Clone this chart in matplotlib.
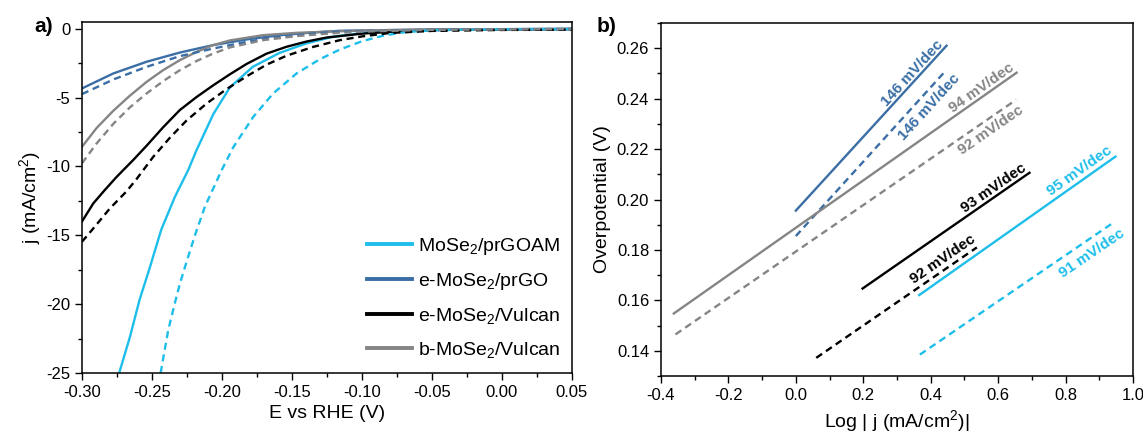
import numpy as np
import matplotlib
matplotlib.use("Agg")
import matplotlib.pyplot as plt
from matplotlib.ticker import MultipleLocator, FormatStrFormatter
import math

plt.rcParams['font.family'] = ['Liberation Sans', 'DejaVu Sans']
plt.rcParams['mathtext.fontset'] = 'custom'
plt.rcParams['mathtext.rm'] = 'Liberation Sans'
plt.rcParams['mathtext.default'] = 'regular'
plt.rcParams['axes.unicode_minus'] = False

CYAN = "#1EBEEB"
BLUE = "#3A6EA5"
BLACK = "#000000"
GREY = "#858585"

# ---------------- Panel a data: polarization curves ----------------
labels = ["MoSe$_2$/prGOAM", "e-MoSe$_2$/prGO", "e-MoSe$_2$/Vulcan", "b-MoSe$_2$/Vulcan"]

cyan_solid_E = [-0.2734, -0.2657, -0.2589, -0.2514, -0.2434, -0.2336, -0.2241, -0.2181, -0.2062,
                -0.1943, -0.178, -0.1589, -0.1398, -0.1209, -0.10, -0.07, -0.03, 0.05]
cyan_solid_j = [-25.0, -22.37, -19.7, -17.3, -14.6, -12.2, -10.26, -8.8, -6.2,
                -4.25, -2.76, -1.75, -1.06, -0.58, -0.30, -0.12, -0.03, -0.01]

cyan_dash_E = [-0.2438, -0.2419, -0.2384, -0.2336, -0.23, -0.2252, -0.2193, -0.2121, -0.2002,
               -0.1919, -0.1776, -0.1634, -0.1467, -0.13, -0.1157, -0.10, -0.085, -0.07, -0.05, 0.0, 0.05]
cyan_dash_j = [-25.0, -23.9, -21.9, -19.9, -18.5, -16.9, -15.0, -12.9, -10.26,
               -8.6, -6.39, -4.69, -3.24, -2.2, -1.5, -0.9, -0.5, -0.25, -0.1, -0.03, -0.02]

blue_solid_E = [-0.30, -0.2776, -0.2538, -0.23, -0.2062, -0.1824, -0.1586, -0.1348, -0.1157, -0.05, 0.05]
blue_solid_j = [-4.33, -3.24, -2.39, -1.72, -1.18, -0.77, -0.46, -0.26, -0.14, -0.05, 0.0]

blue_dash_E = [-0.30, -0.2776, -0.2538, -0.23, -0.2062, -0.1824, -0.1586, -0.1348, -0.1157, -0.05, 0.05]
blue_dash_j = [-4.74, -3.68, -2.76, -1.98, -1.43, -0.94, -0.58, -0.34, -0.20, -0.06, -0.01]

black_solid_E = [-0.30, -0.2919, -0.2836, -0.2752, -0.2634, -0.2539, -0.242, -0.2301, -0.2181,
                 -0.2062, -0.1943, -0.1824, -0.1681, -0.1538, -0.1395, -0.1252, -0.10, -0.07, -0.03, 0.05]
black_solid_j = [-14.0, -12.68, -11.7, -10.75, -9.53, -8.5, -7.15, -5.9, -4.95,
                 -4.1, -3.3, -2.55, -1.8, -1.3, -0.92, -0.63, -0.35, -0.15, -0.05, -0.02]

black_dash_E = [-0.30, -0.2919, -0.28, -0.2681, -0.2609, -0.2491, -0.2371, -0.2252, -0.2109,
                -0.197, -0.1824, -0.1681, -0.1538, -0.1348, -0.1157, -0.10, -0.08, -0.05, 0.0, 0.05]
black_dash_j = [-15.47, -14.5, -13.04, -11.8, -10.9, -9.3, -7.9, -6.65, -5.42,
                -4.4, -3.45, -2.6, -1.95, -1.31, -0.82, -0.55, -0.30, -0.15, -0.08, -0.06]

grey_solid_E = [-0.30, -0.2895, -0.2776, -0.2657, -0.2538, -0.242, -0.23, -0.218, -0.2062,
                -0.1943, -0.1705, -0.1467, -0.10, -0.05, 0.05]
grey_solid_j = [-8.57, -7.2, -5.95, -4.85, -3.85, -3.0, -2.27, -1.67, -1.18,
                -0.84, -0.46, -0.29, -0.12, -0.04, -0.01]

grey_dash_E = [-0.30, -0.2895, -0.2776, -0.2657, -0.2538, -0.242, -0.23, -0.218, -0.2062,
               -0.1943, -0.1705, -0.1467, -0.1229, -0.10, -0.05, 0.05]
grey_dash_j = [-9.77, -8.32, -6.9, -5.7, -4.69, -3.8, -3.0, -2.33, -1.79,
               -1.35, -0.82, -0.53, -0.33, -0.2, -0.07, -0.02]

# ---------------- Panel b data: Tafel lines (endpoints) ----------------
tafel_names = ["blue_s", "blue_d", "grey_s", "grey_d", "black_s", "black_d", "cyan_s", "cyan_d"]
tafel_x0 = [0.0, 0.0, -0.362, -0.357, 0.198, 0.0605, 0.366, 0.368]
tafel_x1 = [0.447, 0.442, 0.655, 0.653, 0.693, 0.537, 0.948, 0.946]
tafel_y0 = [0.1956, 0.1855, 0.1548, 0.1465, 0.1647, 0.1372, 0.1621, 0.1385]
tafel_y1 = [0.2610, 0.2507, 0.2503, 0.2395, 0.2106, 0.1810, 0.2170, 0.1912]
tafel_colors = [BLUE, BLUE, GREY, GREY, BLACK, BLACK, CYAN, CYAN]
tafel_dashed = [False, True, False, True, False, True, False, True]
tafel_text = ["146 mV/dec", "146 mV/dec", "94 mV/dec", "92 mV/dec",
              "93 mV/dec", "92 mV/dec", "95 mV/dec", "91 mV/dec"]
text_x = [0.345, 0.395, 0.550, 0.580, 0.588, 0.436, 0.842, 0.878]
text_y = [0.2500, 0.2368, 0.2441, 0.2276, 0.2044, 0.1762, 0.2114, 0.1786]

# ---------------- Figure ----------------
fig = plt.figure(figsize=(11.43, 4.34), dpi=100)
axa = fig.add_axes([0.0717, 0.1406, 0.4287, 0.8088])
axb = fig.add_axes([0.5783, 0.1336, 0.4129, 0.8134])

LW = 1.7
DASH = (3.0, 2.0)

axa.plot(cyan_solid_E, cyan_solid_j, color=CYAN, lw=LW, label=labels[0])
axa.plot(blue_solid_E, blue_solid_j, color=BLUE, lw=LW, label=labels[1])
axa.plot(black_solid_E, black_solid_j, color=BLACK, lw=LW, label=labels[2])
axa.plot(grey_solid_E, grey_solid_j, color=GREY, lw=LW, label=labels[3])
axa.plot(cyan_dash_E, cyan_dash_j, color=CYAN, lw=LW, dashes=DASH)
axa.plot(blue_dash_E, blue_dash_j, color=BLUE, lw=LW, dashes=DASH)
axa.plot(black_dash_E, black_dash_j, color=BLACK, lw=LW, dashes=DASH)
axa.plot(grey_dash_E, grey_dash_j, color=GREY, lw=LW, dashes=DASH)

axa.set_xlim(-0.30, 0.05)
axa.set_ylim(-25, 0.5)
axa.xaxis.set_major_locator(MultipleLocator(0.05))
axa.xaxis.set_minor_locator(MultipleLocator(0.025))
axa.yaxis.set_major_locator(MultipleLocator(5))
axa.yaxis.set_minor_locator(MultipleLocator(2.5))
axa.xaxis.set_major_formatter(FormatStrFormatter('%.2f'))
axa.yaxis.set_major_formatter(FormatStrFormatter('%d'))
axa.set_xlabel("E vs RHE (V)", fontsize=14, labelpad=4)
axa.set_ylabel("j (mA/cm$^2$)", fontsize=14, labelpad=2)

leg = axa.legend(loc='lower right', frameon=False, fontsize=14, handlelength=2.3,
                 handletextpad=0.3, labelspacing=0.72, borderaxespad=0.2,
                 bbox_to_anchor=(1.0, 0.005))
for h in leg.get_lines():
    h.set_linewidth(2.8)

for i in range(len(tafel_names)):
    kw = dict(color=tafel_colors[i], lw=LW)
    if tafel_dashed[i]:
        kw['dashes'] = DASH
    axb.plot([tafel_x0[i], tafel_x1[i]], [tafel_y0[i], tafel_y1[i]], **kw)
    ang = math.degrees(math.atan2(tafel_y1[i] - tafel_y0[i], tafel_x1[i] - tafel_x0[i]))
    axb.text(text_x[i], text_y[i], tafel_text[i], color=tafel_colors[i], fontsize=11,
             fontweight='bold', rotation=ang, transform_rotates_text=True,
             rotation_mode='anchor', ha='center', va='center')

axb.set_xlim(-0.4, 1.0)
axb.set_ylim(0.13, 0.27)
axb.xaxis.set_major_locator(MultipleLocator(0.2))
axb.xaxis.set_minor_locator(MultipleLocator(0.1))
axb.yaxis.set_major_locator(MultipleLocator(0.02))
axb.yaxis.set_minor_locator(MultipleLocator(0.01))
axb.xaxis.set_major_formatter(FormatStrFormatter('%.1f'))
axb.yaxis.set_major_formatter(FormatStrFormatter('%.2f'))
axb.set_xlabel("Log | j (mA/cm$^2$)|", fontsize=14, labelpad=4)
axb.set_ylabel("Overpotential (V)", fontsize=14, labelpad=4)

for ax in (axa, axb):
    ax.tick_params(which='both', direction='out', top=False, right=False, labelsize=12)
    ax.tick_params(which='major', length=5, width=1)
    ax.tick_params(which='minor', length=3, width=1)
    for s in ax.spines.values():
        s.set_linewidth(1.1)

fig.text(0.030, 0.94, "a)", fontsize=15, fontweight='bold', ha='left', va='center')
fig.text(0.522, 0.94, "b)", fontsize=15, fontweight='bold', ha='left', va='center')

fig.savefig("out.png", dpi=100)
